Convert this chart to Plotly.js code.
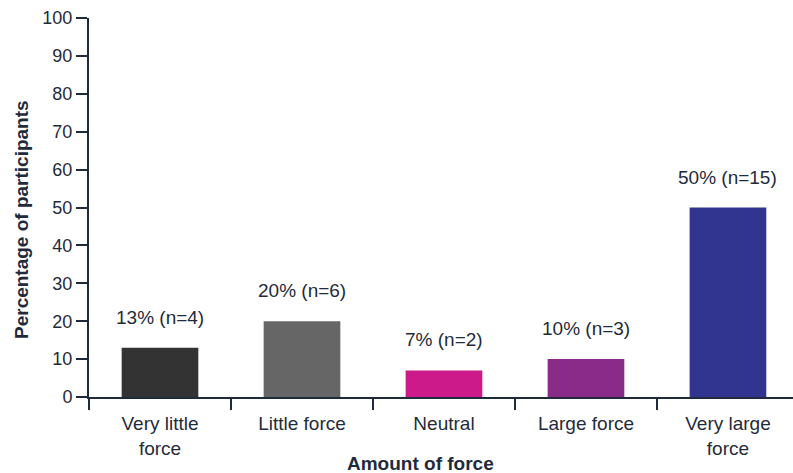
<!DOCTYPE html>
<html>
<head>
<meta charset="utf-8">
<script src="https://cdn.plot.ly/plotly-3.0.1.min.js"></script>
<style>
  html, body { margin: 0; padding: 0; background: #fff; }
  #chart { width: 793px; height: 473px; }
</style>
</head>
<body>
<div id="chart"></div>
<script>
// Responses on the amount of force
const categories = ['Very little<br>force', 'Little force', 'Neutral', 'Large force', 'Very large<br>force'];
const percentages = [13, 20, 7, 10, 50];
const counts = [4, 6, 2, 3, 15];
const barColors = ['#333333', '#666666', '#cc1a8a', '#8b2b89', '#31358f'];
const yTicks = [0, 10, 20, 30, 40, 50, 60, 70, 80, 90, 100];

const ink = '#1f2b3b';
const fontFamily = 'Liberation Sans, Arial, sans-serif';

const trace = {
  type: 'bar',
  x: categories,
  y: percentages,
  width: 0.54,
  marker: { color: barColors, line: { width: 0 } },
  hoverinfo: 'skip'
};

// Value labels above each bar
const valueLabels = categories.map((c, i) => ({
  x: c,
  y: percentages[i],
  xref: 'x',
  yref: 'y',
  text: percentages[i] + '% (n=' + counts[i] + ')',
  showarrow: false,
  yanchor: 'bottom',
  yshift: 18,
  font: { family: fontFamily, size: 19, color: ink }
}));

const axisTitles = [
  {
    text: '<b>Amount of force</b>',
    xref: 'paper', yref: 'paper',
    x: (420 - 89) / (793 - 89), y: 0,
    yshift: -66,
    showarrow: false,
    xanchor: 'center', yanchor: 'middle',
    font: { family: fontFamily, size: 19, color: ink }
  },
  {
    text: '<b>Percentage of participants</b>',
    xref: 'paper', yref: 'paper',
    x: 0, xshift: -68,
    y: (397 - 220) / (397 - 18),
    textangle: -90,
    showarrow: false,
    xanchor: 'center', yanchor: 'middle',
    font: { family: fontFamily, size: 19, color: ink }
  }
];

const layout = {
  width: 793,
  height: 473,
  margin: { l: 89, r: 0, t: 18, b: 76, pad: 0 },
  paper_bgcolor: '#ffffff',
  plot_bgcolor: '#ffffff',
  showlegend: false,
  font: { family: fontFamily, color: ink },
  xaxis: {
    type: 'category',
    range: [-0.5, 4.458],
    showgrid: false,
    zeroline: false,
    showline: true,
    linecolor: ink,
    linewidth: 2,
    ticks: 'outside',
    tickson: 'boundaries',
    ticklen: 11,
    tickwidth: 2,
    tickcolor: ink,
    ticklabelstandoff: 8,
    tickfont: { family: fontFamily, size: 19, color: ink },
    fixedrange: true
  },
  yaxis: {
    range: [0, 100],
    tickvals: yTicks,
    ticktext: yTicks.map(String),
    showgrid: false,
    zeroline: false,
    showline: true,
    linecolor: ink,
    linewidth: 2,
    ticks: 'outside',
    ticklen: 11,
    tickwidth: 2,
    tickcolor: ink,
    tickfont: { family: fontFamily, size: 18, color: ink },
    fixedrange: true
  },
  annotations: valueLabels.concat(axisTitles),
  bargap: 0.46
};

Plotly.newPlot('chart', [trace], layout, { displayModeBar: false, staticPlot: true });
</script>
</body>
</html>
